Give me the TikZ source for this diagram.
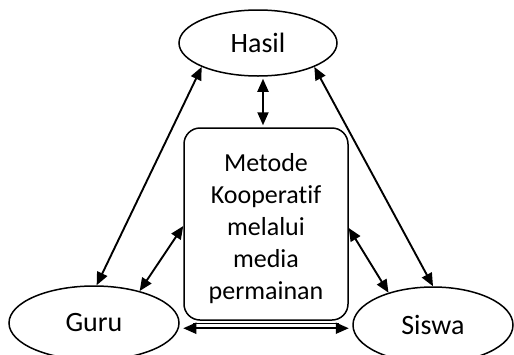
\documentclass[tikz,border=0pt]{standalone}
\usepackage{fontspec}
\setmainfont[RawFeature={-liga;-clig;-dlig}]{Carlito}
\usetikzlibrary{arrows.meta,shapes.geometric}
\begin{document}
\begin{tikzpicture}[x=1pt,y=-1pt,
  oval/.style={draw,ellipse,line width=1.5pt,inner sep=0pt,font=\fontsize{28}{34}\selectfont},
  mbox/.style={draw,rectangle,rounded corners=16pt,line width=1.5pt,minimum width=164pt,minimum height=192pt},
  btext/.style={align=center,font=\fontsize{26}{32}\selectfont,inner sep=0pt},
  dbl/.style={line width=1.9pt,{Triangle[length=13pt,width=11pt]}-{Triangle[length=13pt,width=11pt]}}]
\useasboundingbox (0,0) rectangle (514,354);
\node[oval,minimum width=158pt,minimum height=66pt] (hasil) at (258,43) {Hasil};
\node[oval,minimum width=170pt,minimum height=74pt] (guru) at (94,323) {Guru};
\node[oval,minimum width=160pt,minimum height=76pt] (siswa) at (433,325) {Siswa};
\node[mbox] (box) at (266,224) {};
\node[btext] (boxtext) at (266,229) {Metode\\Kooperatif\\melalui\\media\\permainan};
\draw[dbl] (hasil.203) -- (guru.86);
\draw[dbl] (hasil.337) -- (siswa.90);
\draw[dbl] ([xshift=5pt,yshift=-2pt]hasil.south) -- ([xshift=-3pt,yshift=2pt]box.north);
\draw[dbl] ([yshift=-2pt]box.west) -- (guru.35);
\draw[dbl] ([yshift=-4pt]box.east) -- (siswa.144);
\draw[dbl] ([yshift=-7.5pt]box.south west) -- ([yshift=-7.5pt]box.south east);
\draw[line width=0.9pt] ([shift={(10pt,-3pt)}]box.south west) -- ([shift={(-10pt,-3pt)}]box.south east);
\end{tikzpicture}
\end{document}
